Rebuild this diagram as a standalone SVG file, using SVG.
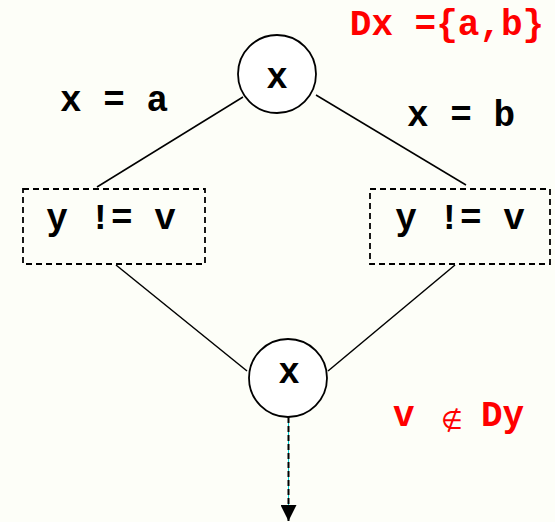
<svg xmlns="http://www.w3.org/2000/svg" width="555" height="522" viewBox="0 0 555 522">
<style>
.t{font-family:"Liberation Mono","Courier New",monospace;font-weight:bold;font-size:36px;fill:#000}
.r{fill:#ff0000}
.n{fill:#fff;stroke:#000;stroke-width:1.8}
.b{fill:none;stroke:#000;stroke-width:1.8;stroke-dasharray:6 4}
.e{stroke:#000;stroke-width:1.5;fill:none}
</style>
<defs>
<marker id="ah" markerWidth="18" markerHeight="16" refX="16" refY="8" orient="auto" markerUnits="userSpaceOnUse">
<path d="M0,0 L16,8 L0,16 Z" fill="#000"/>
</marker>
</defs>
<rect width="555" height="522" fill="#fdfef8"/>
<g id="connectors">
<line class="e" x1="243" y1="97" x2="97" y2="187"/>
<line class="e" x1="316" y1="95" x2="466" y2="185"/>
<line class="e" x1="116" y1="265" x2="247" y2="371"/>
<line class="e" x1="455" y1="265" x2="328" y2="371"/>
<line x1="288.5" y1="417" x2="288.5" y2="508" stroke="#00d0d0" stroke-width="1"/>
<line x1="288.5" y1="417" x2="288.5" y2="521" stroke="#000" stroke-width="2" stroke-dasharray="6 3" marker-end="url(#ah)"/>
</g>
<g id="top">
<circle class="n" cx="277" cy="74" r="39"/>
<text class="t" x="277" y="88" text-anchor="middle">x</text>
</g>
<g id="left">
<rect class="b" x="23" y="189" width="182" height="75"/>
<text class="t" x="111" y="229" text-anchor="middle" xml:space="preserve">y != v</text>
</g>
<g id="right">
<rect class="b" x="370" y="189" width="180" height="75"/>
<text class="t" x="460" y="229" text-anchor="middle" xml:space="preserve">y != v</text>
</g>
<g id="bottom">
<circle class="n" cx="288" cy="378" r="39"/>
<text class="t" x="289" y="383" text-anchor="middle">x</text>
</g>
<g id="labels">
<text class="t" x="114" y="111" text-anchor="middle" xml:space="preserve">x = a</text>
<text class="t" x="461" y="126" text-anchor="middle" xml:space="preserve">x = b</text>
<text class="t r" x="447" y="35" text-anchor="middle" xml:space="preserve">Dx ={a,b}</text>
<text class="t r" x="393" y="426">v</text>
<text class="r" x="452" y="429" text-anchor="middle" style="font-family:'DejaVu Sans',sans-serif;font-size:25px">∉</text>
<text class="t r" x="481" y="426">Dy</text>
</g>
</svg>
